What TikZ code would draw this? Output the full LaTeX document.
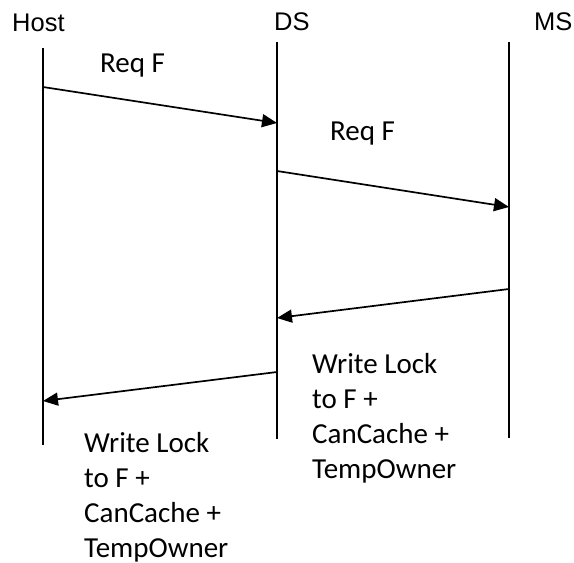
\documentclass[tikz,border=0pt]{standalone}
\usepackage{fontspec}
\setmainfont{Carlito}
\newfontfamily\headfont{Liberation Sans}
\usetikzlibrary{arrows.meta}

\begin{document}
\begin{tikzpicture}[x=1pt,y=-1pt,
  life/.style={line width=2pt},
  msg/.style={line width=1.7pt,-{Triangle[length=15pt,width=13pt]}},
  head/.style={font=\headfont\fontsize{25.5}{30}\selectfont,anchor=base west,inner sep=0pt},
  txt/.style={font=\fontsize{29}{35}\selectfont,anchor=base west,inner sep=0pt,align=left}]
\useasboundingbox (0,0) rectangle (574,563);
% lifelines
\node[head] (host) at (12,31) {Host};
\node[head] (ds) at (274,30) {DS};
\node[head] (ms) at (534,30) {MS};
\coordinate (hostTop) at (43,48);
\coordinate (hostBot) at (43,445);
\coordinate (dsTop) at (277,42);
\coordinate (dsBot) at (277,439);
\coordinate (msTop) at (509,42);
\coordinate (msBot) at (509,438);
\draw[life] (hostTop) -- (hostBot);
\draw[life] (dsTop) -- (dsBot);
\draw[life] (msTop) -- (msBot);
% messages
\coordinate (reqHost) at (43,87);
\coordinate (reqDsIn) at (277,123);
\coordinate (reqDsOut) at (277,171);
\coordinate (reqMs) at (509,207);
\coordinate (lockMs) at (509,289);
\coordinate (lockDsIn) at (277,318);
\coordinate (lockDsOut) at (277,372);
\coordinate (lockHost) at (43,401);
\draw[msg] (reqHost) -- (reqDsIn);
\draw[msg] (reqDsOut) -- (reqMs);
\draw[msg] (lockMs) -- (lockDsIn);
\draw[msg] (lockDsOut) -- (lockHost);
\node[txt] (reqA) at (100,72) {Req F};
\node[txt] (reqB) at (330,140) {Req F};
% base anchor sits on the last line
\node[txt] (lockA) at (312,478) {Write Lock\\to F +\\CanCache +\\TempOwner};
\node[txt] (lockB) at (84,557) {Write Lock\\to F +\\CanCache +\\TempOwner};
\end{tikzpicture}
\end{document}
